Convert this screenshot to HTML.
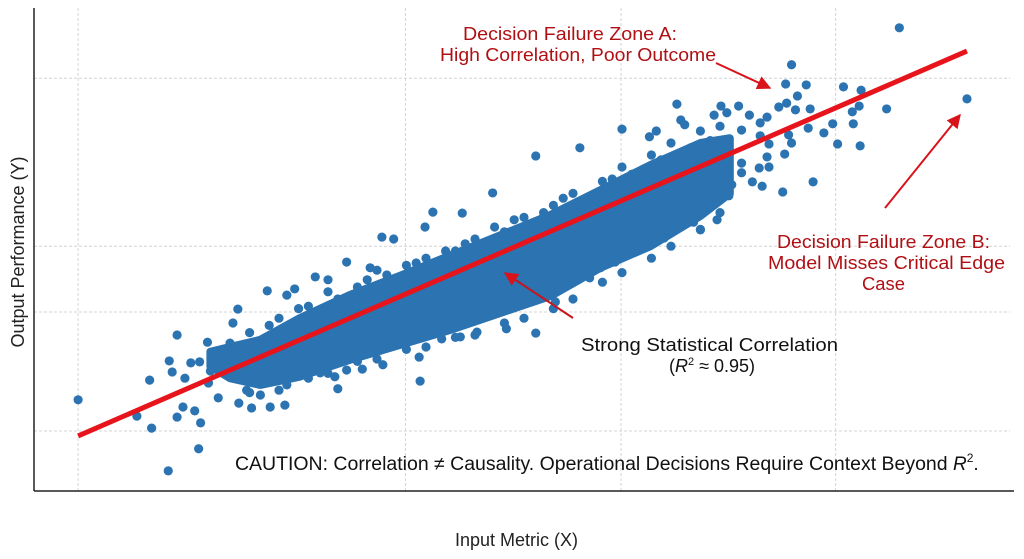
<!DOCTYPE html>
<html><head><meta charset="utf-8"><style>
html,body{margin:0;padding:0;background:#fff;}
svg{display:block;font-family:"Liberation Sans",sans-serif;}
</style></head><body>
<svg id="chart" width="1024" height="559" viewBox="0 0 1024 559" xmlns="http://www.w3.org/2000/svg">
<defs>
<marker id="ah" viewBox="0 0 10 10" refX="9" refY="5" markerWidth="7" markerHeight="7" orient="auto"><path d="M0,0 L10,5 L0,10 z" fill="#d8141a"/></marker>
</defs>
<g id="grid"></g>
<g id="band"></g>
<g id="pts"></g>
<g id="fit"></g>
<line x1="34" y1="8" x2="34" y2="491" stroke="#222" stroke-width="1.5"/>
<line x1="34" y1="491" x2="1014" y2="491" stroke="#222" stroke-width="1.5"/>
<text x="455" y="546" textLength="123" lengthAdjust="spacingAndGlyphs" font-size="18" fill="#222">Input Metric (X)</text>
<text transform="translate(24,252) rotate(-90)" text-anchor="middle" font-size="18" fill="#222">Output Performance (Y)</text>
<g fill="#b00f14" font-size="18">
<text x="463" y="40" textLength="214" lengthAdjust="spacingAndGlyphs">Decision Failure Zone A:</text>
<text x="440" y="61" textLength="276" lengthAdjust="spacingAndGlyphs">High Correlation, Poor Outcome</text>
</g>
<line x1="716" y1="63" x2="770" y2="88" stroke="#d8141a" stroke-width="2" marker-end="url(#ah)"/>
<g fill="#b00f14" font-size="18">
<text x="777" y="248" textLength="213" lengthAdjust="spacingAndGlyphs">Decision Failure Zone B:</text>
<text x="768" y="269" textLength="237" lengthAdjust="spacingAndGlyphs">Model Misses Critical Edge</text>
<text x="862" y="290" textLength="43" lengthAdjust="spacingAndGlyphs">Case</text>
</g>
<line x1="885" y1="208" x2="960" y2="115" stroke="#d8141a" stroke-width="2" marker-end="url(#ah)"/>
<g fill="#111" font-size="18">
<text x="581" y="351" textLength="257" lengthAdjust="spacingAndGlyphs">Strong Statistical Correlation</text>
<text x="669" y="372">(<tspan font-style="italic">R</tspan><tspan font-size="11" dy="-7">2</tspan><tspan dy="7"> ≈ 0.95)</tspan></text>
</g>
<line x1="573" y1="318" x2="505" y2="273" stroke="#c8141a" stroke-width="2" marker-end="url(#ah)"/>
<text x="235" y="470" font-size="19" fill="#111"><tspan textLength="718" lengthAdjust="spacingAndGlyphs">CAUTION: Correlation ≠ Causality. Operational Decisions Require Context Beyond </tspan><tspan font-style="italic">R</tspan><tspan font-size="12" dy="-8">2</tspan><tspan dy="8">.</tspan></text>
</svg>
<script>
const pointsX=[4.5,10.5,12.0,13.7,16.8,17.0,11.8,13.8,14.6,17.7,14.6,15.2,16.4,15.4,14.1,16.0,16.9,19.1,20.0,20.8,20.3,23.8,25.8,26.6,28.7,35.5,36.7,39.4,39.3,31.0,25.6,24.1,22.2,20.9,18.8,40.7,46.8,39.9,43.7,45.2,48.2,43.5,41.6,33.5,35.6,31.9,30.7,29.2,27.9,25.8,23.1,21.7,17.8,37.0,31.9,30.0,34.3,
88.3,77.3,95.2,76.7,78.8,82.6,84.4,77.9,87.0,84.2,83.5,76.8,76.0,77.7,79.2,79.0,81.5,83.6,80.6,82.0,84.3,77.0,77.3,76.6,79.5,76.4,74.3,73.3,75.0,74.0,74.8,75.0,74.1,74.1,74.8,73.0,72.2,71.9,70.1,69.4,70.7,65.6,66.0,66.4,60.0,63.5,62.8,55.7,51.2,70.9,69.7,68.0,67.3,64.3,63.6,59.3,57.8,56.7,54.9,53.2,51.2,49.5,72.2,72.2,71.2,68.9,
22,25,28,30,33,35,38,40,43,45,48,50,53,55,58,60,63,65,68,70,
22,25,28,30,33,35,38,40,43,45,48,50,53,55,58,60,63,65,68,70,
24,27,31,34,36,39,42,44,47,49,52,54,57,59,61,64,67,69,18,19];
const pointsY=[19.0,15.6,13.1,4.2,8.8,14.2,23.1,27.1,32.5,31.0,15.4,17.5,16.7,23.5,24.8,26.7,26.9,29.4,30.8,37.9,35.0,41.7,40.8,42.1,44.6,52.9,52.5,22.9,27.9,21.3,17.9,17.5,17.3,18.3,19.4,58.1,62.1,55.0,57.9,33.1,33.8,32.1,31.7,25.4,26.3,25.2,23.8,24.6,23.8,22.1,20.0,21.0,22.5,30.8,47.7,44.0,46.5,
96.5,88.8,81.7,84.8,84.6,84.2,83.5,82.3,79.6,80.2,79.0,80.8,80.0,79.4,79.6,75.6,76.5,76.5,74.6,72.3,71.9,74.2,72.5,70.2,64.4,62.3,63.5,64.4,67.5,67.3,69.6,72.3,74.0,76.7,77.9,78.3,75.2,80.2,80.2,78.3,78.8,80.6,77.3,76.3,75.4,75.0,73.8,71.5,69.8,61.5,56.5,54.4,56.0,52.7,53.8,47.7,46.5,44.4,44.4,39.4,32.9,39.2,68.3,66.3,63.8,59.2,
33,36,38.5,41.5,42.5,46,47,48.5,50,52.5,54,57,59.5,62,64.5,67.5,70,72.5,75,76,
20.5,21,23.5,24.5,27,27.5,29.5,30,32,32.5,35,36,38,40,43.5,45.5,48.5,51,54.5,58,
34.5,38,40,44,45,47.5,50,51.5,55,56.5,58,61,61.5,65,66,69,71.5,73,25,28];
const bandX=[18.0,20.0,23.1,27.1,32.2,37.3,42.4,47.6,52.7,57.8,62.9,68.0,71.0];
const bandLow=[26.0,23.5,22.1,23.8,27.3,30.4,33.5,37.1,40.6,46.5,51.0,57.3,62.0];
const bandHigh=[29.0,30.0,31.5,36.0,40.8,44.8,49.0,53.3,57.5,62.7,67.9,72.5,73.5];
const fitRange=[4.5,95.2];
const fitSlope=0.884, fitIntercept=7.5;
const gridX=[4.5,37.9,59.9,81.8];
const gridY=[12.5,37.3,51.0,86.0];

const NS='http://www.w3.org/2000/svg';
const xS=v=>34+v*9.8;
const yS=v=>491-v*4.8;
const BLUE='#2b73b1';
function mk(tag,attrs,parent){const e=document.createElementNS(NS,tag);for(const k in attrs)e.setAttribute(k,attrs[k]);parent.appendChild(e);return e;}

const g=document.getElementById('grid');
gridX.forEach(v=>{const l=mk('line',{x1:xS(v),x2:xS(v),y1:8,y2:491,stroke:'#d4d4d4','stroke-dasharray':'3,2','stroke-width':1},g);

});
gridY.forEach(v=>{const l=mk('line',{x1:34,x2:1010,y1:yS(v),y2:yS(v),stroke:'#d4d4d4','stroke-dasharray':'3,2','stroke-width':1},g);

});

const b=document.getElementById('band');
let d='M'+bandX.map((x,i)=>xS(x)+','+yS(bandHigh[i])).join(' L');
for(let i=bandX.length-1;i>=0;i--)d+=' L'+xS(bandX[i])+','+yS(bandLow[i]);
d+=' Z';
const bp=mk('path',{d:d,fill:BLUE,stroke:BLUE,'stroke-width':8,'stroke-linejoin':'round'},b);



const p=document.getElementById('pts');
pointsX.forEach((x,i)=>{const c=mk('circle',{cx:xS(x),cy:yS(pointsY[i]),r:4.6,fill:BLUE},p);

});

const f=document.getElementById('fit');
const fl=mk('line',{x1:xS(fitRange[0]),y1:yS(fitIntercept+fitSlope*fitRange[0]),x2:xS(fitRange[1]),y2:yS(fitIntercept+fitSlope*fitRange[1]),stroke:'#e8141c','stroke-width':5,'stroke-linecap':'butt'},f);


</script>
</body></html>
